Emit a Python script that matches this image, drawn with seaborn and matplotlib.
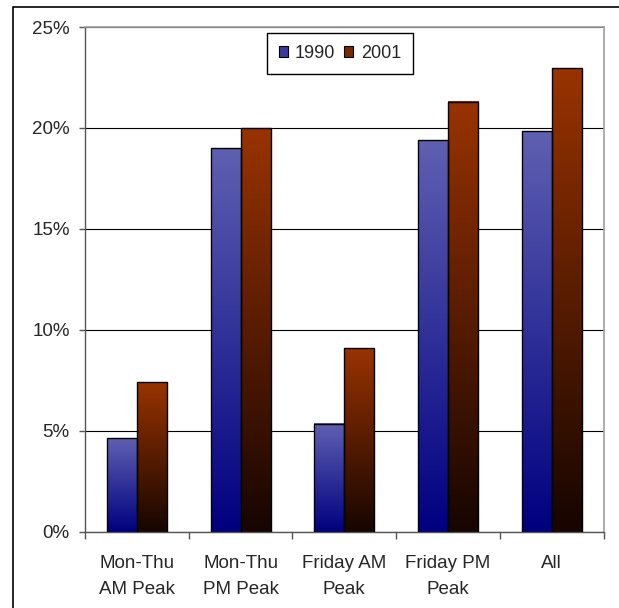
import numpy as np
import pandas as pd
import seaborn as sns
import matplotlib.pyplot as plt
from matplotlib.colors import LinearSegmentedColormap
from matplotlib.patches import Patch, Rectangle
from matplotlib.ticker import PercentFormatter, FixedLocator


categorias = ["Mon-Thu\nAM Peak", "Mon-Thu\nPM Peak", "Friday AM\nPeak", "Friday PM\nPeak", "All"]
anios = ["1990", "2001"]
valores_1990 = [4.65, 19.0, 5.35, 19.4, 19.85]
valores_2001 = [7.4, 20.0, 9.1, 21.3, 22.95]

# colores del degradado (abajo -> arriba)
degradados = {
	"1990": ["#000080", "#5f60b1"],
	"2001": ["#160500", "#993300"],
}


df = pd.DataFrame({
	"categoria": categorias * 2,
	"anio": [anios[0]] * 5 + [anios[1]] * 5,
	"valor": valores_1990 + valores_2001,
})

sns.set_style("white")
plt.rcParams["font.family"] = ["Liberation Sans", "DejaVu Sans"]

fig = plt.figure(figsize=(6.19, 6.08), dpi=100)
ax = fig.add_axes([85 / 619, 1 - 531.7 / 608, 518.7 / 619, 504.7 / 608])

sns.barplot(data=df, x="categoria", y="valor", hue="anio", order=categorias,
	hue_order=anios, palette=["#3030a0", "#8a3000"], width=0.58,
	edgecolor="black", linewidth=1.0, ax=ax, legend=False, zorder=3)

# degradado vertical en cada barra
for patch, anio in zip(ax.patches, [anios[0]] * 5 + [anios[1]] * 5):
	x, y = patch.get_x(), patch.get_y()
	w, h = patch.get_width(), patch.get_height()
	cmap = LinearSegmentedColormap.from_list(anio, degradados[anio])
	grad = np.linspace(0, 1, 256).reshape(-1, 1)
	ax.imshow(grad, extent=[x, x + w, y, y + h], origin="lower", aspect="auto",
		cmap=cmap, zorder=2.5, interpolation="bilinear")
	patch.set_facecolor("none")

ax.set_xlim(-0.5, 4.5)
ax.set_ylim(0, 25)
ax.set_yticks([0, 5, 10, 15, 20, 25])
ax.yaxis.set_major_formatter(PercentFormatter(decimals=0))
ax.set_xlabel("")
ax.set_ylabel("")

ax.xaxis.set_minor_locator(FixedLocator(np.arange(-0.5, 5, 1)))
ax.tick_params(axis="x", which="major", length=0, pad=17, labelsize=13.5)
ax.tick_params(axis="x", which="minor", length=5, width=1, color="#555555", direction="out", bottom=True)
ax.tick_params(axis="y", which="major", length=4, width=1, color="#555555", direction="out", left=True, pad=7, labelsize=13.5)
for lbl in ax.get_xticklabels():
	lbl.set_linespacing(1.7)

ax.grid(axis="y", color="black", linewidth=0.8, zorder=1)
ax.set_axisbelow(True)
for lado in ["left", "bottom"]:
	ax.spines[lado].set_color("#555555")
	ax.spines[lado].set_linewidth(1.0)
for lado in ["top", "right"]:
	ax.spines[lado].set_color("#a0a0a0")
	ax.spines[lado].set_linewidth(1.2)

handles = [Patch(facecolor="#3a3aa0", edgecolor="black", linewidth=0.8),
	Patch(facecolor="#7a2a00", edgecolor="black", linewidth=0.8)]
leg = ax.legend(handles, anios, loc="upper left", bbox_to_anchor=(0.351, 0.988),
	ncol=2, fontsize=13, frameon=True, fancybox=False, framealpha=1,
	handlelength=0.5, handleheight=0.5, handletextpad=0.4, columnspacing=0.5,
	borderpad=0.65, borderaxespad=0)
leg.get_frame().set_edgecolor("black")
leg.get_frame().set_linewidth(1.0)

# marco exterior del grafico
fig.patches.append(Rectangle((12.7 / 619, -0.1), 2, 1.1 - 7 / 608, transform=fig.transFigure,
	fill=False, edgecolor="black", linewidth=1.2))

plt.savefig("out.png", dpi=100)
plt.close()
